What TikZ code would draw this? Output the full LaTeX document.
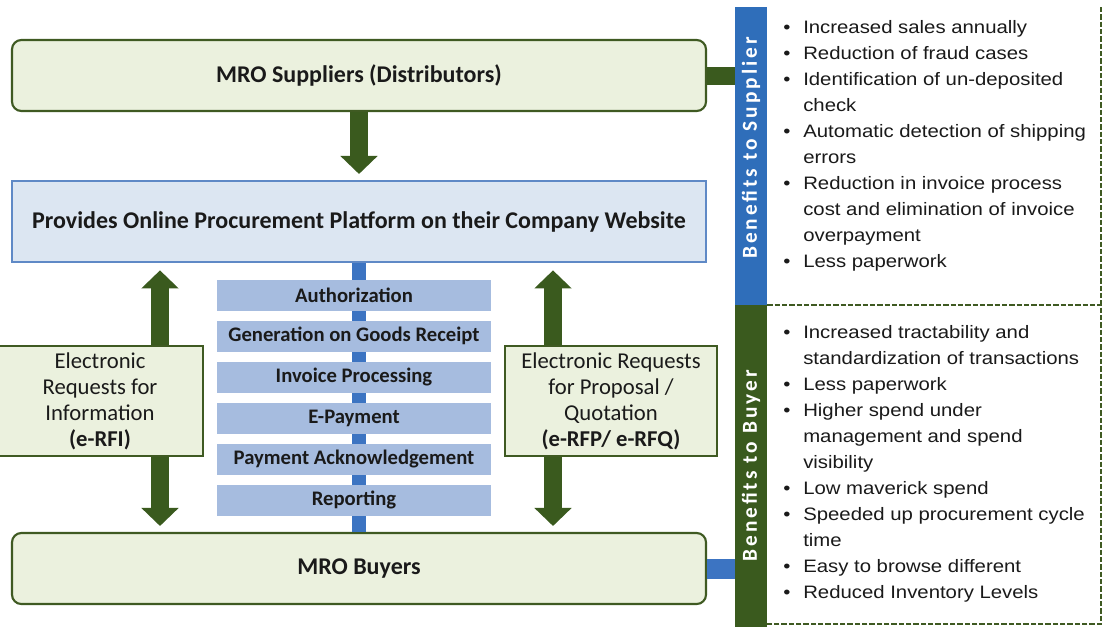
\documentclass[tikz,border=0pt]{standalone}
\usepackage{fontspec}
\setmainfont{Carlito}
\newfontfamily\boxfont{Carlito}
\newfontfamily\listfont[FakeStretch=1.13]{Liberation Sans}
\newfontfamily\barfont[LetterSpace=14]{Carlito}
\usetikzlibrary{arrows.meta}
\definecolor{gfill}{HTML}{EBF1DE}
\definecolor{gline}{HTML}{3F5A22}
\definecolor{agreen}{HTML}{3A5A1E}
\definecolor{barblue}{HTML}{2F6EBA}
\definecolor{pfill}{HTML}{DCE6F2}
\definecolor{pline}{HTML}{5F89C6}
\definecolor{mfill}{HTML}{A6BCDF}
\definecolor{cblue}{HTML}{3C74C2}
\definecolor{txt}{HTML}{1A1A1A}
\newcommand\itm{\makebox[15pt][l]{\textbullet}}
\newcommand\cnt{\hspace*{15pt}}
\begin{document}
\begin{tikzpicture}[x=0.75pt,y=-0.75pt,
  gbox/.style={draw=gline, line width=1.6pt, fill=gfill, rounded corners=7pt,
    minimum width=520.5pt, minimum height=53.25pt, inner sep=0pt, text=txt,
    font=\boxfont\bfseries\fontsize{18}{21}\selectfont},
  sidebox/.style={draw=gline, line width=1.6pt, fill=gfill, minimum height=82.5pt,
    inner sep=0pt, align=center, text=txt,
    font=\boxfont\fontsize{17}{19.5}\selectfont},
  mbox/.style={fill=mfill, minimum width=205.5pt, minimum height=23.25pt, inner sep=0pt,
    text=txt, font=\boxfont\bfseries\fontsize{15.5}{18}\selectfont},
  bigarrow/.style={draw=agreen, line width=13.5pt,
    arrows={-{Triangle[width=28pt,length=13.5pt,line width=0pt]}}},
  dblarrow/.style={draw=agreen, line width=13.5pt,
    arrows={{Triangle[width=28pt,length=13.5pt,line width=0pt]}-{Triangle[width=28pt,length=13.5pt,line width=0pt]}}},
  listnode/.style={anchor=north west, inner sep=0pt, align=left, text=txt,
    font=\listfont\fontsize{13.5}{19.5}\selectfont},
  bartext/.style={rotate=90, text=white, inner sep=0pt,
    font=\barfont\bfseries\fontsize{16}{18}\selectfont},
  dline/.style={draw=gline, line width=1.2pt, dash pattern=on 4pt off 1.5pt}
]
\useasboundingbox (0,0) rectangle (1110,629);
\fill[white] (0,0) rectangle (1110,629);

% main boxes
\node[gbox] (sup) at (359,75.5) {MRO Suppliers (Distributors)};
\node[draw=pline, line width=1.6pt, fill=pfill, minimum width=520.5pt, minimum height=60.75pt,
  inner sep=0pt, text=txt, font=\boxfont\bfseries\fontsize{18}{21}\selectfont]
  (plat) at (359,221.5) {Provides Online Procurement Platform on their Company Website};
\node[gbox] (buy) at (359,568.5) {MRO Buyers};

% side bars
\node[fill=barblue, minimum width=24pt, minimum height=223.5pt, inner sep=0pt] (sbar) at (751,156) {};
\node[fill=agreen, minimum width=24pt, minimum height=241.5pt, inner sep=0pt] (bbar) at (751,466) {};

% connectors to bars
\draw[agreen, line width=13.5pt] (sup.east) -- (sbar.west |- sup.east);
\draw[cblue, line width=15pt] (buy.east) -- (bbar.west |- buy.east);

% vertical blue connector
\draw[cblue, line width=10.5pt] (plat.south) -- (buy.north);

% process steps
\node[mbox] (s1) at (354,295) {Authorization};
\node[mbox] (s2) at (354,336) {Generation on Goods Receipt};
\node[mbox] (s3) at (354,377) {Invoice Processing};
\node[mbox] (s4) at (354,418) {E-Payment};
\node[mbox] (s5) at (354,459) {Payment Acknowledgement};
\node[mbox] (s6) at (354,500) {Reporting};

% arrows
\draw[bigarrow, shorten >=4.5pt] (sup.south) -- (plat.north);
\coordinate (la) at (160,400);
\coordinate (ra) at (553,400);
\draw[dblarrow, shorten <=5.5pt, shorten >=4.5pt] (plat.south -| la) -- (buy.north -| la);
\draw[dblarrow, shorten <=5.5pt, shorten >=4.5pt] (plat.south -| ra) -- (buy.north -| ra);

% side request boxes
\node[sidebox, minimum width=154.5pt] (rfi) at (100,401)
  {Electronic\\Requests for\\Information\\\textbf{(e-RFI)}};
\node[sidebox, minimum width=159pt] (rfp) at (611,401)
  {Electronic Requests\\for Proposal /\\Quotation\\\textbf{(e-RFP/ e-RFQ)}};

% bar texts
\node[bartext] (st) at (751,148) {Benefits to Supplier};
\node[bartext] (bt) at (751,466) {Benefits to Buyer};

% dashed panel
\coordinate (p1) at (1101,7);
\coordinate (p2) at (1101,624);
\draw[dline] (p1) -- (p2) -- (bbar.east |- p2);
\draw[dline] (sbar.south east) -- (sbar.south east -| p1);

% lists
\node[listnode] (slist) at (783,20) {%
\itm Increased sales annually\\
\itm Reduction of fraud cases\\
\itm Identification of un-deposited\\
\cnt check\\
\itm Automatic detection of shipping\\
\cnt errors\\
\itm Reduction in invoice process\\
\cnt cost and elimination of invoice\\
\cnt overpayment\\
\itm Less paperwork};
\node[listnode] (blist) at (783,325) {%
\itm Increased tractability and\\
\cnt standardization of transactions\\
\itm Less paperwork\\
\itm Higher spend under\\
\cnt management and spend\\
\cnt visibility\\
\itm Low maverick spend\\
\itm Speeded up procurement cycle\\
\cnt time\\
\itm Easy to browse different\\
\itm Reduced Inventory Levels};
\end{tikzpicture}
\end{document}
